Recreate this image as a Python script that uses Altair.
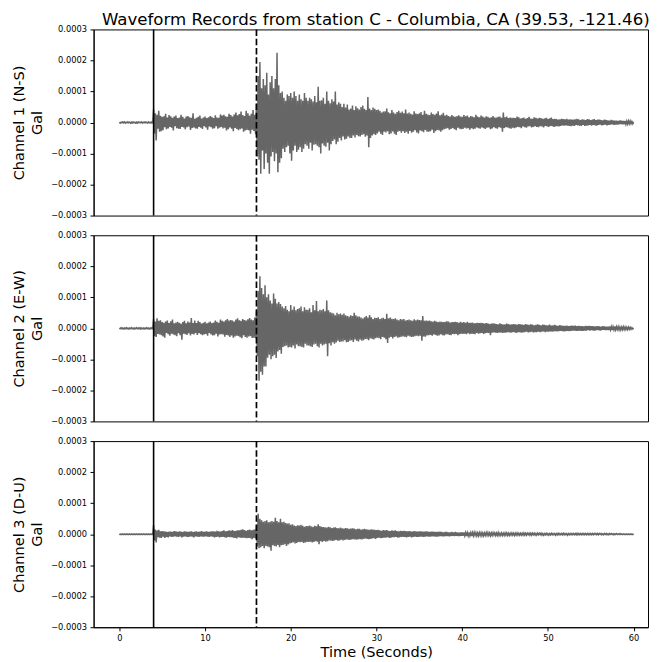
import altair as alt
import pandas as pd

# sampling step of the hand-read waveform values (seconds)
DT = 0.1
# phase picks (seconds)
T_P = 4.0
T_S = 16.0

# amplitudes, in units of 1e-6 Gal (one row = one second)
CH1 = [
    1,-2,1,-1,2,-1,2,-2,1,-1,
    2,-1,1,-2,1,-2,2,-1,1,-2,
    1,-2,2,-1,1,-1,2,-2,1,-1,
    2,-1,1,-2,2,-1,1,-2,2,-1,
    42,-35,30,-58,25,-20,38,-30,22,-28,
    18,-25,20,-15,28,-22,16,-19,24,-14,
    20,-17,15,-26,19,-12,22,-18,14,-20,
    16,-21,25,-14,18,-16,13,-22,19,-15,
    21,-13,17,-24,15,-18,30,-16,12,-19,
    15,-20,18,-14,22,-17,13,-21,16,-12,
    19,-16,14,-23,17,-13,21,-15,18,-20,
    14,-18,23,-12,16,-20,15,-17,26,-14,
    22,-19,25,-17,20,-26,18,-22,28,-16,
    24,-20,19,-28,26,-18,32,-21,23,-25,
    27,-22,35,-19,24,-30,21,-26,38,-24,
    30,-25,22,-36,28,-23,40,-27,25,-38,
    60,-110,150,-120,195,-165,110,-90,140,-150,
    120,-100,160,-130,90,-165,130,-110,150,-95,
    110,-125,140,-100,225,-160,120,-130,95,-115,
    100,-85,80,-95,70,-80,90,-75,85,-100,
    95,-123,80,-90,100,-75,85,-95,70,-88,
    90,-80,75,-95,70,-85,95,-70,80,-75,
    70,-85,80,-65,75,-90,68,-72,85,-70,
    65,-75,115,-80,70,-100,72,-68,80,-75,
    60,-78,100,-65,70,-90,62,-70,75,-60,
    68,-55,100,-70,58,-62,65,-50,60,-58,
    50,-45,60,-55,48,-52,58,-45,42,-50,
    45,-50,55,-42,40,-48,52,-40,46,-44,
    42,-45,50,-40,55,-38,44,-46,40,-42,
    82,-80,45,-50,40,-42,48,-38,44,-40,
    40,-35,42,-30,38,-36,32,-40,35,-30,
    36,-32,45,-28,33,-38,30,-35,40,-29,
    32,-36,28,-40,34,-30,38,-27,31,-33,
    35,-28,30,-34,42,-30,29,-36,32,-27,
    28,-33,26,-30,36,-25,29,-32,27,-35,
    30,-26,34,-28,25,-31,38,-24,28,-30,
    26,-30,24,-28,32,-23,27,-34,25,-28,
    29,-24,36,-26,23,-30,26,-25,31,-22,
    22,-20,25,-18,21,-23,19,-21,24,-18,
    20,-22,18,-25,21,-17,23,-20,19,-22,
    18,-21,24,-17,20,-19,22,-18,17,-23,
    21,-18,19,-22,17,-20,25,-16,19,-18,
    17,-20,22,-16,19,-18,16,-21,20,-17,
    18,-16,15,-22,17,-19,21,-15,16,-18,
    16,-20,18,-15,19,-17,15,-30,32,-18,
    17,-15,19,-16,14,-18,16,-20,15,-17,
    15,-18,14,-16,19,-14,17,-15,13,-18,
    14,-13,16,-15,12,-17,14,-13,18,-12,
    13,-16,12,-14,17,-12,15,-14,13,-15,
    15,-12,14,-13,12,-16,13,-11,15,-13,
    12,-14,13,-11,16,-12,11,-14,12,-13,
    11,-12,9,-13,10,-11,12,-9,11,-10,
    10,-9,12,-10,9,-11,10,-12,9,-10,
    9,-11,10,-8,12,-9,10,-10,8,-11,
    10,-8,9,-11,8,-10,11,-9,10,-8,
    8,-10,9,-8,11,-9,8,-10,9,-8,
    9,-7,8,-9,7,-8,9,-7,8,-9,
    7,-8,6,-7,8,-6,7,-8,6,-7,
    6,-7,5,-6,7,-5,6,-6,5,-6,
    5,-6,4,-5,5,-4,5,-4,3,-4,
    2]

CH2 = [
    1,-1,2,-1,1,-2,1,-1,2,-1,
    1,-2,1,-1,2,-1,1,-2,1,-1,
    2,-1,1,-1,2,-2,1,-1,1,-2,
    1,-1,2,-1,1,-2,1,-1,2,-1,
    30,-25,22,-28,32,-18,24,-20,26,-22,
    20,-26,18,-30,22,-15,25,-19,17,-24,
    23,-17,28,-20,16,-22,19,-25,21,-16,
    18,-22,15,-37,20,-17,24,-19,16,-21,
    22,-16,19,-23,33,-18,17,-20,25,-15,
    17,-21,24,-16,20,-19,15,-22,18,-20,
    21,-18,16,-24,19,-15,22,-20,17,-23,
    19,-22,25,-17,21,-26,18,-20,28,-19,
    24,-20,22,-27,26,-21,30,-23,25,-28,
    27,-23,25,-30,22,-26,28,-24,32,-25,
    26,-29,24,-32,30,-22,27,-28,25,-30,
    29,-26,33,-25,28,-31,26,-30,35,-32,
    55,-90,120,-169,168,-140,130,-150,110,-123,
    139,-123,100,-95,110,-85,90,-100,80,-90,
    112,-85,95,-96,80,-75,85,-70,78,-82,
    70,-60,65,-58,72,-55,60,-62,55,-60,
    75,-62,60,-55,70,-65,58,-52,62,-58,
    65,-58,70,-60,55,-62,68,-50,60,-55,
    60,-55,65,-58,52,-60,75,-52,58,-50,
    88,-58,55,-62,60,-50,58,-55,62,-52,
    55,-50,90,-90,58,-48,52,-55,50,-45,
    48,-50,42,-46,50,-40,45,-44,48,-42,
    44,-42,48,-38,42,-45,40,-44,38,-40,
    42,-38,40,-44,50,-36,42,-40,38,-42,
    38,-36,35,-40,32,-38,36,-34,40,-35,
    35,-38,43,-32,36,-34,30,-36,34,-32,
    33,-30,36,-32,30,-35,32,-28,34,-30,
    30,-35,47,-47,32,-30,35,-28,31,-33,
    30,-28,32,-26,28,-30,26,-29,30,-27,
    28,-26,30,-27,25,-29,27,-24,28,-26,
    26,-28,24,-27,29,-25,26,-24,28,-25,
    27,-24,26,-40,40,-26,24,-27,25,-23,
    24,-22,25,-21,23,-24,22,-20,24,-21,
    22,-24,20,-23,22,-19,21,-22,20,-23,
    21,-20,23,-19,22,-21,19,-22,20,-18,
    20,-19,21,-18,20,-22,18,-19,21,-17,
    19,-18,20,-17,18,-19,21,-16,18,-19,
    18,-17,19,-18,16,-19,17,-15,18,-17,
    17,-16,18,-15,17,-18,15,-16,17,-15,
    16,-15,14,-22,15,-14,16,-13,15,-14,
    14,-15,13,-14,16,-13,14,-15,12,-14,
    13,-14,15,-12,14,-13,12,-14,13,-12,
    14,-12,13,-15,12,-13,14,-12,13,-14,
    12,-13,11,-12,14,-11,12,-13,11,-12,
    13,-11,12,-13,10,-12,11,-12,13,-11,
    11,-12,10,-11,12,-10,11,-12,10,-11,
    10,-11,12,-10,9,-11,10,-10,11,-9,
    9,-10,8,-9,10,-8,9,-9,8,-10,
    8,-9,9,-8,7,-9,8,-8,9,-7,
    8,-7,9,-8,7,-8,8,-7,7,-8,
    7,-8,6,-7,8,-7,7,-6,8,-7,
    7,-6,7,-7,6,-7,6,-6,7,-6,
    6,-7,5,-6,7,-5,6,-6,5,-6,
    5,-6,6,-5,5,-6,5,-5,6,-5,
    5,-4,5,-5,4,-5,4,-4,5,-4,
    4,-4,3,-4,4,-3,3,-3,2,-2,
    1]

CH3 = [
    1,-1,1,-1,1,-1,1,-1,1,-1,
    1,-1,1,-1,1,-1,1,-1,1,-1,
    1,-1,1,-1,1,-1,1,-1,1,-1,
    1,-1,1,-1,1,-1,1,-1,1,-1,
    29,-20,15,-27,12,-10,14,-11,9,-12,
    10,-8,9,-12,8,-9,7,-10,8,-7,
    8,-9,7,-8,10,-7,9,-8,7,-9,
    9,-7,8,-10,7,-8,9,-7,8,-9,
    7,-9,8,-7,9,-8,7,-10,8,-7,
    9,-8,7,-9,8,-7,10,-8,7,-8,
    8,-7,9,-8,7,-9,8,-7,9,-8,
    9,-10,8,-9,11,-8,9,-10,8,-9,
    10,-9,12,-10,9,-11,10,-9,12,-10,
    11,-10,13,-11,10,-12,11,-14,12,-10,
    12,-11,14,-12,16,-11,13,-12,11,-13,
    13,-12,15,-13,12,-16,14,-12,15,-14,
    30,-40,66,-45,50,-42,45,-38,40,-45,
    42,-38,45,-40,38,-42,40,-53,42,-36,
    40,-38,53,-40,42,-35,38,-42,50,-36,
    38,-35,40,-32,36,-38,34,-33,35,-30,
    30,-28,32,-26,28,-30,26,-28,29,-25,
    28,-26,30,-25,27,-28,24,-27,26,-25,
    26,-25,28,-24,25,-27,24,-25,27,-23,
    25,-24,32,-32,26,-23,24,-25,23,-22,
    22,-24,21,-23,24,-20,22,-21,20,-22,
    21,-20,22,-19,20,-21,19,-20,21,-18,
    19,-20,18,-19,20,-17,19,-18,17,-19,
    18,-17,19,-16,18,-17,16,-18,17,-16,
    17,-16,15,-17,16,-15,17,-14,16,-15,
    15,-16,14,-15,16,-14,15,-13,14,-15,
    13,-12,14,-11,12,-13,11,-12,13,-11,
    12,-11,13,-10,11,-12,10,-11,12,-10,
    11,-10,12,-9,10,-11,9,-10,11,-9,
    10,-9,11,-9,10,-10,9,-9,10,-8,
    9,-10,8,-9,10,-8,9,-9,8,-9,
    9,-8,9,-8,8,-9,8,-8,9,-7,
    8,-8,7,-8,8,-7,8,-7,7,-8,
    7,-8,7,-7,8,-6,7,-7,6,-7,
    7,-6,7,-6,6,-7,6,-6,7,-5,
    6,-6,7,-5,6,-6,5,-6,6,-5,
    6,-5,6,-5,5,-6,5,-5,6,-5,
    5,-6,5,-5,6,-4,5,-5,4,-5,
    5,-4,5,-5,4,-5,4,-4,5,-4,
    5,-4,4,-5,4,-4,5,-3,4,-4,
    4,-4,5,-4,3,-4,4,-4,3,-4,
    4,-3,4,-4,3,-4,3,-3,4,-3,
    3,-4,3,-3,4,-3,3,-3,3,-3,
    3,-3,4,-3,3,-3,3,-2,3,-3,
    3,-3,3,-2,3,-3,2,-3,3,-2,
    3,-2,3,-3,2,-3,2,-2,3,-2,
    2,-3,2,-2,3,-2,2,-2,2,-3,
    2,-2,3,-2,2,-2,2,-2,3,-2,
    2,-2,2,-3,2,-2,2,-2,2,-2,
    2,-2,2,-2,3,-2,2,-2,2,-2,
    2,-2,2,-2,2,-2,2,-2,2,-2,
    2,-2,2,-2,2,-1,2,-2,2,-2,
    2,-1,2,-2,1,-2,2,-1,2,-2,
    1,-2,2,-1,2,-1,1,-2,1,-1,
    2,-1,1,-1,2,-1,1,-1,1,-1,
    1,-1,1,-1,1,-1,1,-1,1,-1,
    1]

CHANNELS = ["Channel 1 (N-S)", "Channel 2 (E-W)", "Channel 3 (D-U)"]
Y_TICKS = [-0.0003, -0.0002, -0.0001, 0.0, 0.0001, 0.0002, 0.0003]
X_TICKS = [0, 10, 20, 30, 40, 50, 60]
TITLE = "Waveform Records from station C - Columbia, CA (39.53, -121.46)"
X_TITLE = "Time (Seconds)"
Y_UNIT = "Gal"

FONT = "DejaVu Sans"
PW, PH = 557, 187


def panel(vals, name, bottom, title=None):
    df = pd.DataFrame({
        "t": [round(i * DT, 2) for i in range(len(vals))],
        "a": [v * 1e-6 for v in vals],
    })
    if bottom:
        xaxis = alt.Axis(values=X_TICKS, format="d", title=X_TITLE,
                         labelPadding=3, titlePadding=3, titleX=284)
    else:
        xaxis = None
    x = alt.X("t:Q", scale=alt.Scale(domain=[-3, 61.68], nice=False, zero=False), axis=xaxis)
    y = alt.Y("a:Q", scale=alt.Scale(domain=[-0.0003, 0.0003], nice=False),
              axis=alt.Axis(values=Y_TICKS, format=".4f", title=[name, Y_UNIT]))
    line = alt.Chart(df).mark_line(color="#666666", strokeWidth=1.5, clip=True).encode(x=x, y=y)
    p = alt.Chart(pd.DataFrame({"t": [T_P]})).mark_rule(
        color="black", strokeWidth=1.6).encode(x=x)
    s = alt.Chart(pd.DataFrame({"t": [T_S]})).mark_rule(
        color="black", strokeWidth=1.7, strokeDash=[6.5, 2.8]).encode(x=x)
    layers = [line, p, s]
    if title:
        ttl = alt.Chart(pd.DataFrame({"label": [title]})).mark_text(
            font=FONT, fontSize=16.7, color="black", align="center",
            baseline="alphabetic").encode(
            x=alt.value(283.5), y=alt.value(-4.7), text="label:N")
        layers.append(ttl)
    return alt.layer(*layers).properties(width=PW, height=PH)


chart = alt.vconcat(
    panel(CH1, CHANNELS[0], False, TITLE),
    panel(CH2, CHANNELS[1], False),
    panel(CH3, CHANNELS[2], True),
    spacing=9.8,
).properties(
    padding={"left": 3, "top": 1, "right": 0, "bottom": 0},
    background="white",
).configure_view(
    stroke="black", strokeWidth=1
).configure_axis(
    labelFont=FONT, labelFontSize=8.3, labelColor="black",
    tickColor="black", tickSize=3.6, tickWidth=1, labelPadding=3.6,
    domainColor="black", domainWidth=1, grid=False,
    titleFont=FONT, titleFontSize=14.6, titleFontWeight="normal",
    titleColor="black", titlePadding=6, titleLineHeight=18,
)

chart.save("out.html", embed_options={"renderer": "svg", "actions": False})
